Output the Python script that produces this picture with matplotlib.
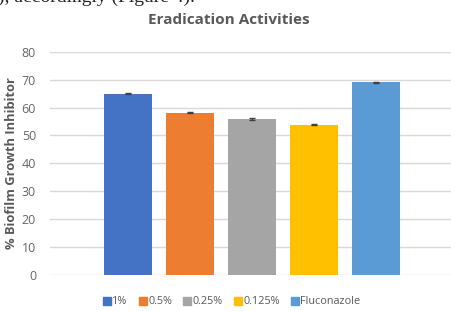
import matplotlib
matplotlib.use("Agg")
import matplotlib.pyplot as plt
from matplotlib.lines import Line2D

categories = ["1%", "0.5%", "0.25%", "0.125%", "Fluconazole"]
values = [65.0, 58.2, 56.0, 53.9, 69.0]
errors = [0.3, 0.3, 0.3, 0.3, 0.3]
colors = ["#4472C4", "#ED7D31", "#A5A5A5", "#FFC000", "#5B9BD5"]
yticks = [0, 10, 20, 30, 40, 50, 60, 70, 80]

W, H = 451, 311
fig = plt.figure(figsize=(W/100, H/100), dpi=100)
fig.patch.set_facecolor("white")

ax = fig.add_axes([50/W, 1-275/H, 404/W, (275-51.7)/H])
xs = list(range(len(categories)))
ax.bar(xs, values, width=0.775, color=colors, zorder=3,
       yerr=errors, error_kw=dict(ecolor="#404040", elinewidth=1, capsize=2.5, capthick=1, zorder=4))
ax.set_xlim(-1.25, 5.25)
ax.set_ylim(0, 80)
ax.set_yticks(yticks)
ax.set_xticks([])
for s in ax.spines.values():
    s.set_visible(False)
ax.grid(axis="y", color="#d9d9d9", linewidth=1, zorder=0)
ax.tick_params(axis="y", length=0, pad=10, labelsize=9, labelcolor="#666666")
for lab in ax.get_yticklabels():
    lab.set_fontfamily("Open Sans")
ax.set_ylabel("% Biofilm Growth Inhibitor", fontsize=9.3, fontweight="bold",
              color="#595959", family="Open Sans", labelpad=3)

fig.text(229/W, 1-20/H, "Eradication Activities", ha="center", va="center",
         fontsize=11, fontweight="bold", color="#595959", family="Open Sans")
fig.text(-2/W, 1-2/H, "), accordingly (Figure 4).", ha="left", va="baseline",
         fontsize=14, color="#222222", family="Liberation Serif")

handles = [Line2D([], [], linestyle="none", marker="s", markersize=5.5,
                  markerfacecolor=c, markeredgecolor=c) for c in colors]
fig.legend(handles, categories, loc="center", bbox_to_anchor=(232/W, 1-302/H),
           ncol=5, frameon=False, handlelength=0.6, handletextpad=0.2,
           columnspacing=1.1, labelcolor="#595959", prop={"family": "Open Sans", "size": 7.8})

fig.savefig("out.png", dpi=100, facecolor="white")
